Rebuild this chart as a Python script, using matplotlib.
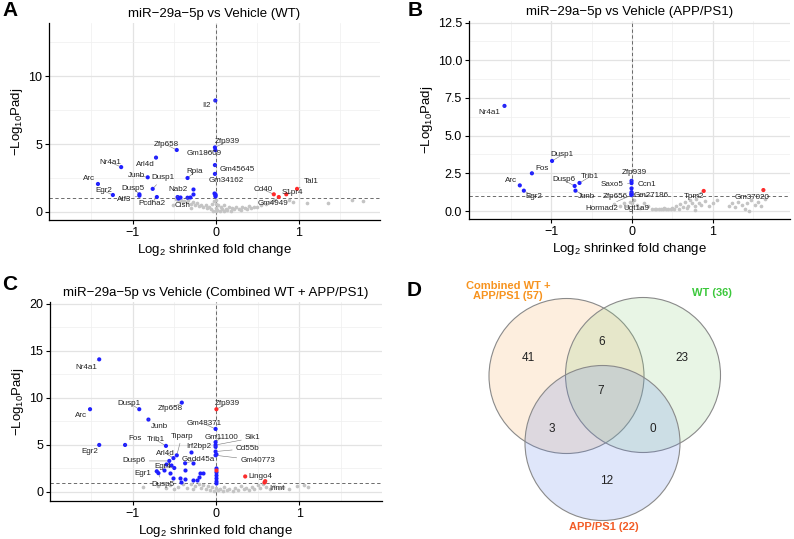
import numpy as np
import matplotlib
matplotlib.use('Agg')
import matplotlib.pyplot as plt
from matplotlib.patches import Circle

plt.rcParams['font.family'] = ['Liberation Sans', 'DejaVu Sans']
plt.rcParams['mathtext.default'] = 'regular'

MINUS = '\u2212'

# ---- Panel A: miR-29a-5p vs Vehicle (WT) ----
A_genes = ['Il2', 'Zfp939', 'Gm18609', 'Zfp658', 'Nr4a1', 'Arl4d', 'Gm45645', 'Rpia',
           'Junb', 'Dusp1', 'Gm34162', 'Arc', 'Egr2', 'Dusp5', 'Atf3', 'Pcdha2',
           'Nab2', 'Cish', 'Cd40', 'Gm4949', 'S1pr4', 'Tal1']
A_lfc = [-0.005, -0.01, -0.005, -0.47, -1.14, -0.72, -0.01, -0.34, -0.82, -0.76, -0.01,
         -1.42, -1.24, -0.92, -0.92, -0.71, -0.46, -0.34, 0.70, 0.76, 0.85, 0.98]
A_padj = [8.2, 4.75, 4.55, 4.56, 3.3, 4.0, 3.45, 2.5, 2.55, 1.7, 2.8,
          2.06, 1.25, 1.3, 1.2, 1.1, 1.1, 1.05, 1.3, 1.1, 1.3, 1.7]
A_extra_lfc = [-0.28, -0.27, -0.43, -0.31, -0.02, -0.01, -0.005, -0.015, -0.45]
A_extra_padj = [1.7, 1.3, 1.1, 1.1, 1.4, 1.3, 1.2, 1.25, 1.05]
A_grey_lfc = [-0.52, -0.48, -0.45, -0.42, -0.40, -0.38, -0.35, -0.33, -0.30, -0.30, -0.28,
              -0.25, -0.22, -0.20, -0.18, -0.15, -0.12, -0.10, -0.08, -0.06, -0.05, -0.03,
              -0.02, 0.0, 0.0, 0.0, 0.0, 0.02, 0.03, 0.05, 0.06, 0.08, 0.10, 0.10, 0.12,
              0.14, 0.16, 0.18, 0.20, 0.22, 0.25, 0.28, 0.30, 0.32, 0.35, 0.38, 0.40, 0.43,
              0.46, 0.50, 0.55, 0.60, 0.65, 0.70, 0.88, 0.93, 1.10, 1.35, 1.64, 1.78]
A_grey_padj = [0.5, 0.95, 0.85, 0.9, 0.75, 0.8, 0.7, 0.85, 0.6, 0.3, 0.75,
               0.5, 0.65, 0.45, 0.55, 0.35, 0.5, 0.3, 0.4, 0.2, 0.6, 0.1,
               0.8, 0.05, 0.3, 0.6, 0.9, 0.15, 0.5, 0.1, 0.35, 0.2, 0.05, 0.5, 0.25,
               0.15, 0.35, 0.1, 0.3, 0.2, 0.4, 0.25, 0.15, 0.35, 0.3, 0.2, 0.45, 0.3,
               0.4, 0.35, 0.5, 0.6, 0.75, 0.85, 0.9, 0.7, 0.65, 0.65, 0.9, 0.8]

# ---- Panel B: miR-29a-5p vs Vehicle (APP/PS1) ----
B_genes = ['Nr4a1', 'Dusp1', 'Fos', 'Arc', 'Egr2', 'Dusp6', 'Trib1', 'Junb', 'Zfp939',
           'Saxo5', 'Ccn1', 'Zfp656', 'Gm27186', 'Hormad2', 'Ugt1a9', 'Tpm2', 'Gm37020']
B_lfc = [-1.58, -0.99, -1.24, -1.39, -1.34, -0.71, -0.65, -0.70, -0.005,
         -0.005, -0.005, -0.005, -0.005, -0.005, -0.005, 0.89, 1.63]
B_padj = [6.97, 3.32, 2.5, 1.7, 1.35, 1.66, 1.86, 1.35, 2.0,
          1.85, 1.5, 1.25, 1.15, 1.05, 1.1, 1.33, 1.39]
B_grey_lfc = [-0.22, -0.15, -0.10, -0.06, -0.03, 0.0, 0.03, 0.06, 0.10, 0.15, 0.20, 0.25,
              0.28, 0.30, 0.33, 0.36, 0.38, 0.40, 0.42, 0.45, 0.48, 0.50, 0.52, 0.55,
              0.58, 0.60, 0.63, 0.66, 0.68, 0.70, 0.72, 0.75, 0.78, 0.78, 0.80, 0.83,
              0.86, 0.90, 0.95, 1.00, 1.05, 1.20, 1.24, 1.28, 1.32, 1.36, 1.40, 1.43,
              1.45, 1.48, 1.52, 1.56, 1.60, 1.65]
B_grey_padj = [0.45, 0.35, 0.55, 0.3, 0.6, 0.5, 0.7, 0.4, 0.2, 0.5, 0.3, 0.15,
               0.1, 0.15, 0.1, 0.15, 0.1, 0.2, 0.1, 0.15, 0.1, 0.2, 0.15, 0.3,
               0.15, 0.45, 0.25, 0.6, 0.2, 0.35, 0.75, 0.5, 0.3, 0.05, 0.8, 0.55,
               0.4, 0.65, 0.3, 0.5, 0.7, 0.35, 0.5, 0.25, 0.6, 0.4, 0.15, 0.55,
               0.0, 0.75, 0.4, 0.6, 0.3, 0.8]

# ---- Panel C: combined WT + APP/PS1 ----
C_genes = ['Nr4a1', 'Arc', 'Dusp1', 'Zfp658', 'Junb', 'Zfp939', 'Gm48371', 'Gm11100',
           'Sik1', 'Irf2bp2', 'Cd55b', 'Gm40773', 'Fos', 'Egr2', 'Trib1', 'Tiparp',
           'Arl4d', 'Dusp6', 'Gadd45a', 'Egr4', 'Egr1', 'Dusp5', 'Lingo4', 'Inmt']
C_lfc = [-1.40, -1.51, -0.92, -0.41, -0.81, 0.005, -0.005, -0.005,
         -0.005, -0.005, -0.005, -0.005, -1.09, -1.40, -0.60, -0.47,
         -0.51, -0.56, -0.37, -0.50, -0.71, -0.69, 0.35, 0.59]
C_padj = [14.1, 8.8, 8.8, 9.5, 7.7, 8.8, 6.7, 5.3,
          5.0, 4.8, 4.3, 3.9, 5.0, 5.0, 4.9, 3.9,
          3.6, 3.3, 3.05, 2.55, 2.2, 2.0, 1.65, 1.15]
C_extra_lfc = [-0.30, -0.27, -0.43, -0.37, -0.27, -0.19, -0.55, -0.51, -0.37, -0.23, -0.20,
               -0.16, -0.60, -0.62, -0.54, -0.42, -0.005, -0.005, -0.005, -0.005, -0.005,
               -0.005, -0.005]
C_extra_padj = [4.25, 3.1, 1.5, 2.35, 1.3, 2.0, 2.0, 1.5, 1.4, 1.3, 1.6,
                2.0, 3.0, 2.3, 2.85, 1.05, 1.0, 1.2, 1.5, 1.8, 2.1,
                2.6, 4.0]
C_extra_up_lfc = [0.005, 0.57]
C_extra_up_padj = [2.3, 1.1]
C_grey_lfc = [-0.88, -0.70, -0.60, -0.55, -0.50, -0.45, -0.40, -0.35, -0.30, -0.28, -0.25,
              -0.20, -0.18, -0.15, -0.12, -0.10, -0.07, -0.05, -0.02, 0.0, 0.02, 0.05,
              0.08, 0.10, 0.13, 0.16, 0.20, 0.23, 0.26, 0.30, 0.33, 0.36, 0.40, 0.43,
              0.46, 0.50, 0.53, 0.56, 0.60, 0.65, 0.70, 0.75, 0.80, 0.88, 0.97, 1.05, 1.10]
C_grey_padj = [0.5, 0.6, 0.4, 0.7, 0.3, 0.55, 0.8, 0.45, 0.9, 0.3, 0.6,
               0.8, 0.4, 0.7, 0.3, 0.6, 0.2, 0.5, 0.1, 0.4, 0.2, 0.3,
               0.1, 0.5, 0.2, 0.35, 0.15, 0.4, 0.25, 0.6, 0.3, 0.45, 0.2, 0.55,
               0.35, 0.7, 0.4, 0.8, 0.5, 0.3, 0.6, 0.4, 0.5, 0.35, 0.6, 0.75, 0.55]

# ---- Panel D: Venn counts ----
venn_sets = ['Combined WT +\nAPP/PS1 (57)', 'WT (36)', 'APP/PS1 (22)']
venn_counts = {'C_only': 41, 'CW': 6, 'W_only': 23, 'CWA': 7, 'CA': 3, 'WA': 0, 'A_only': 12}

# label offsets (pixels: right, up) for the repelled gene labels
A_offsets = [(-9, -5), (12, 6), (-11, -3), (-10, 5), (-11, 5), (-11, -7), (22, -4), (7, 6),
             (-11, 2), (10, 11), (11, -7), (-9, 5), (-9, 4), (-6, 6), (-15, -4), (-5, -6),
             (0, 8), (-5, -8), (-11, 5), (-6, -6), (6, 2), (14, 7)]
B_offsets = [(-15, -7), (10, 6), (10, 5), (-9, 5), (10, -6), (-11, 6), (10, 6), (11, -6),
             (3, 8), (-19, -1), (15, 4), (-16, -4), (20, -2), (-30, -13), (5, -14),
             (-10, -6), (-11, -7)]
C_offsets = [(-13, -8), (-9, -6), (-10, 6), (-11, -6), (11, -7), (11, 6), (-11, 5), (6, 5),
             (37, 7), (-17, 0), (32, 3), (42, -5), (10, 6), (-9, -7), (-10, 6), (5, 19),
             (-8, 5), (-35, 0), (13, 4), (-11, 1), (-14, -2), (4, -11), (15, 0), (12, -7)]

BLUE = '#1f1fff'
RED = '#ff2a2a'
GREY = '#c4c4c4'
W, H = 794, 539


def px_axes(left, top, right, bottom):
    return [left / W, 1 - bottom / H, (right - left) / W, (bottom - top) / H]


def volcano(ax, title, genes, lfc, padj, offsets, xlim, ylim, yticks, grey=None,
            extra_down=None, extra_up=None):
    ax.set_xlim(*xlim)
    ax.set_ylim(*ylim)
    ax.set_xticks([-1, 0, 1])
    ax.set_xticklabels([MINUS + '1', '0', '1'])
    ax.set_xticks([-1.5, -0.5, 0.5, 1.5], minor=True)
    ax.set_yticks(yticks)
    step = yticks[1] - yticks[0]
    ax.set_yticks(np.arange(yticks[0] + step / 2, ylim[1], step), minor=True)
    ax.grid(True, which='major', color='#e3e3e3', lw=0.9)
    ax.grid(True, which='minor', color='#efefef', lw=0.5)
    ax.set_axisbelow(True)
    for s in ['top', 'right']:
        ax.spines[s].set_visible(False)
    for s in ['left', 'bottom']:
        ax.spines[s].set_linewidth(0.9)
    ax.tick_params(which='major', length=3, width=0.8, labelsize=9, pad=2)
    ax.tick_params(which='minor', length=0)
    ax.axhline(1.0, color='#555555', ls=(0, (4, 3)), lw=0.6, zorder=1)
    ax.axvline(0.0, color='#555555', ls=(0, (4, 3)), lw=0.6, zorder=1)

    if grey is not None:
        ax.scatter(grey[0], grey[1], s=7, color=GREY, lw=0, zorder=2)
    if extra_down is not None:
        ax.scatter(extra_down[0], extra_down[1], s=9, color=BLUE, lw=0, zorder=3)
    if extra_up is not None:
        ax.scatter(extra_up[0], extra_up[1], s=9, color=RED, lw=0, zorder=3)
    cols = [RED if v > 0 else BLUE for v in lfc]
    ax.scatter(lfc, padj, s=9, c=cols, lw=0, zorder=3)

    for name, x, y, (dx, dy) in zip(genes, lfc, padj, offsets):
        ax.annotate(name, (x, y), xytext=(dx * 0.72, dy * 0.72), textcoords='offset points',
                    ha='center', va='center', fontsize=5.8, color='#222222', zorder=4,
                    arrowprops=dict(arrowstyle='-', color='#777777', lw=0.4,
                                    shrinkA=0.5, shrinkB=1.5))

    ax.set_title(title, fontsize=9.5, pad=4)
    ax.set_xlabel('Log$_2$ shrinked fold change', fontsize=9.5, labelpad=2)
    ax.set_ylabel(MINUS + 'Log$_{10}$Padj', fontsize=9.5, labelpad=2)


fig = plt.figure(figsize=(W / 100, H / 100), dpi=100)

axA = fig.add_axes(px_axes(49, 23, 380, 220))
volcano(axA, 'miR' + MINUS + '29a' + MINUS + '5p vs Vehicle (WT)', A_genes, A_lfc, A_padj,
        A_offsets, (-2.01, 1.98), (-0.59, 13.9), [0, 5, 10],
        grey=(A_grey_lfc, A_grey_padj), extra_down=(A_extra_lfc, A_extra_padj))

axB = fig.add_axes(px_axes(469, 21, 790, 219))
volcano(axB, 'miR' + MINUS + '29a' + MINUS + '5p vs Vehicle (APP/PS1)', B_genes, B_lfc, B_padj,
        B_offsets, (-2.02, 1.96), (-0.53, 12.6), [0, 2.5, 5, 7.5, 10, 12.5],
        grey=(B_grey_lfc, B_grey_padj))
axB.set_yticklabels(['0.0', '2.5', '5.0', '7.5', '10.0', '12.5'])

axC = fig.add_axes(px_axes(50, 302, 382, 501))
volcano(axC, 'miR' + MINUS + '29a' + MINUS + '5p vs Vehicle (Combined WT + APP/PS1)', C_genes,
        C_lfc, C_padj, C_offsets, (-1.99, 1.99), (-0.96, 20.2), [0, 5, 10, 15, 20],
        grey=(C_grey_lfc, C_grey_padj), extra_down=(C_extra_lfc, C_extra_padj),
        extra_up=(C_extra_up_lfc, C_extra_up_padj))

# Venn diagram in pixel coordinates
axD = fig.add_axes([400 / W, 0, 394 / W, 269 / H])
axD.set_xlim(400, 794)
axD.set_ylim(539, 270)
axD.axis('off')
circles = [((566.5, 376), '#f5aa5a'), ((643, 375), '#8ccd7d'), ((602.5, 443), '#5f82e6')]
for (cx, cy), col in circles:
    axD.add_patch(Circle((cx, cy), 77.5, facecolor=col, alpha=0.2, edgecolor='none'))
    axD.add_patch(Circle((cx, cy), 77.5, facecolor='none', edgecolor='#8a8a8a', lw=0.8))
count_pos = {'C_only': (528, 358), 'CW': (602, 342), 'W_only': (682, 358), 'CWA': (601, 391),
             'CA': (552, 429), 'WA': (653, 429), 'A_only': (607, 481)}
for key, n in venn_counts.items():
    axD.text(*count_pos[key], str(n), ha='center', va='center', fontsize=8.5, color='#222222')
set_style = [((508, 291), '#f7931e'), ((712, 293), '#3cc83c'), ((604, 527), '#f25c26')]
for name, ((tx, ty), col) in zip(venn_sets, set_style):
    axD.text(tx, ty, name, ha='center', va='center', fontsize=8, fontweight='bold',
             color=col, linespacing=1.0)

# panel letters
for letter, (x, y) in zip('ABCD', [(10, 11), (415, 11), (10, 285), (414, 290)]):
    fig.text(x / W, 1 - y / H, letter, fontsize=15, fontweight='bold', ha='center', va='center')

fig.savefig('out.png', dpi=100)
